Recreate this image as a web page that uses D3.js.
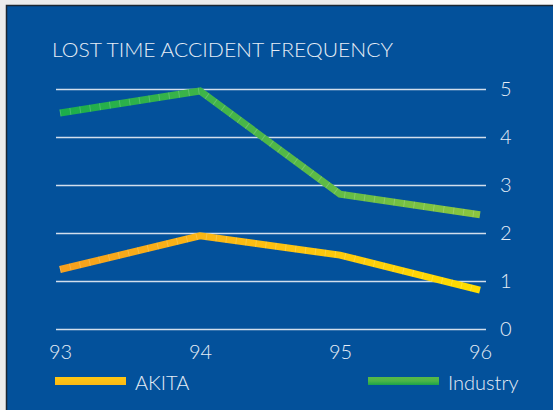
<!DOCTYPE html>
<html>
<head>
<meta charset="utf-8">
<script src="https://cdn.jsdelivr.net/npm/d3@7"></script>
<style>
  body { margin: 0; background: #ececec; }
  svg { display: block; }
  .axis text { font-family: Lato, "Open Sans", sans-serif; font-weight: 300; fill: #e6edf6; }
</style>
</head>
<body>
<svg id="chart" width="553" height="410"></svg>
<script>
// chart data
const years = ["93", "94", "95", "96"];
const akita = [1.24, 1.94, 1.54, 0.81];
const industry = [4.5, 4.96, 2.81, 2.38];
const yTicks = [0, 1, 2, 3, 4, 5];
const seriesNames = ["AKITA", "Industry"];

const svg = d3.select("#chart");
const width = 553, height = 410;

// page strip and panel
svg.append("rect").attr("x", 360).attr("y", 0).attr("width", width - 360).attr("height", 5).attr("fill", "#fafafa");
svg.append("rect")
  .attr("x", 6.5).attr("y", 5.5)
  .attr("width", width).attr("height", height)
  .attr("fill", "#03519b")
  .attr("stroke", "#1b2733").attr("stroke-width", 1.5);

const x = d3.scalePoint().domain(years).range([60, 480]);
const y = d3.scaleLinear().domain([0, 5]).range([329, 89]);

const defs = svg.append("defs");

function gradient(id, stops, x1, x2, y1, y2, units) {
  const g = defs.append("linearGradient").attr("id", id)
    .attr("gradientUnits", units || "userSpaceOnUse")
    .attr("x1", x1).attr("x2", x2).attr("y1", y1).attr("y2", y2);
  stops.forEach((c, i) => g.append("stop").attr("offset", i / (stops.length - 1)).attr("stop-color", c));
}
gradient("gAkita", ["#f6a01e", "#fdc010", "#ffde00"], 60, 480, 0, 0);
gradient("gInd", ["#1bae4b", "#4fb748", "#8cc63f"], 60, 480, 0, 0);
gradient("sAkita", ["#ffc813", "#fdb813"], 0, 0, 0, 1, "objectBoundingBox");
gradient("sInd", ["#58b847", "#4cb648", "#1ba34a"], 0, 0, 0, 1, "objectBoundingBox");

// title
svg.append("text")
  .attr("x", 52).attr("y", 57)
  .attr("font-family", "Lato, 'Open Sans', sans-serif")
  .attr("font-weight", 300)
  .attr("font-size", 20.5)
  .attr("fill", "#e6edf6")
  .attr("textLength", 341).attr("lengthAdjust", "spacingAndGlyphs")
  .text("LOST TIME ACCIDENT FREQUENCY");

// gridlines and value labels on the right
const yAxis = svg.append("g")
  .attr("class", "axis")
  .attr("transform", "translate(486,0)")
  .call(d3.axisRight(y).tickValues(yTicks).tickSize(-430).tickPadding(14).tickFormat(d3.format("d")));
yAxis.select(".domain").remove();
yAxis.selectAll(".tick line").attr("stroke", "#d2deec").attr("stroke-width", 1.4);
yAxis.selectAll(".tick text").attr("font-size", 20);

// year labels
const xAxis = svg.append("g")
  .attr("class", "axis")
  .attr("transform", "translate(0,329)")
  .call(d3.axisBottom(x).tickSize(0).tickPadding(16));
xAxis.select(".domain").remove();
xAxis.selectAll(".tick text").attr("font-size", 20);

// series lines
const line = d3.line().x((d, i) => x(years[i])).y(d => y(d));

const series = [
  { name: seriesNames[0], values: akita, stroke: "url(#gAkita)", swatch: "url(#sAkita)" },
  { name: seriesNames[1], values: industry, stroke: "url(#gInd)", swatch: "url(#sInd)" }
];

series.forEach(s => {
  svg.append("path")
    .datum(s.values)
    .attr("d", line)
    .attr("fill", "none")
    .attr("stroke", s.stroke)
    .attr("stroke-width", 7)
    .attr("stroke-linejoin", "miter");
  // faint vertical texture on the line
  svg.append("path")
    .datum(s.values)
    .attr("d", line)
    .attr("fill", "none")
    .attr("stroke", "#ffffff")
    .attr("stroke-opacity", 0.18)
    .attr("stroke-width", 7)
    .attr("stroke-dasharray", "1 9");
});

// legend
const legendX = [55, 368];
series.forEach((s, i) => {
  const lg = svg.append("g").attr("transform", `translate(${legendX[i]},377)`);
  lg.append("rect").attr("width", 71).attr("height", 8).attr("fill", s.swatch);
  lg.append("text")
    .attr("x", 80).attr("y", 13)
    .attr("font-family", "Lato, 'Open Sans', sans-serif")
    .attr("font-weight", 300)
    .attr("font-size", 20)
    .attr("fill", "#e6edf6")
    .text(s.name);
});
</script>
</body>
</html>
